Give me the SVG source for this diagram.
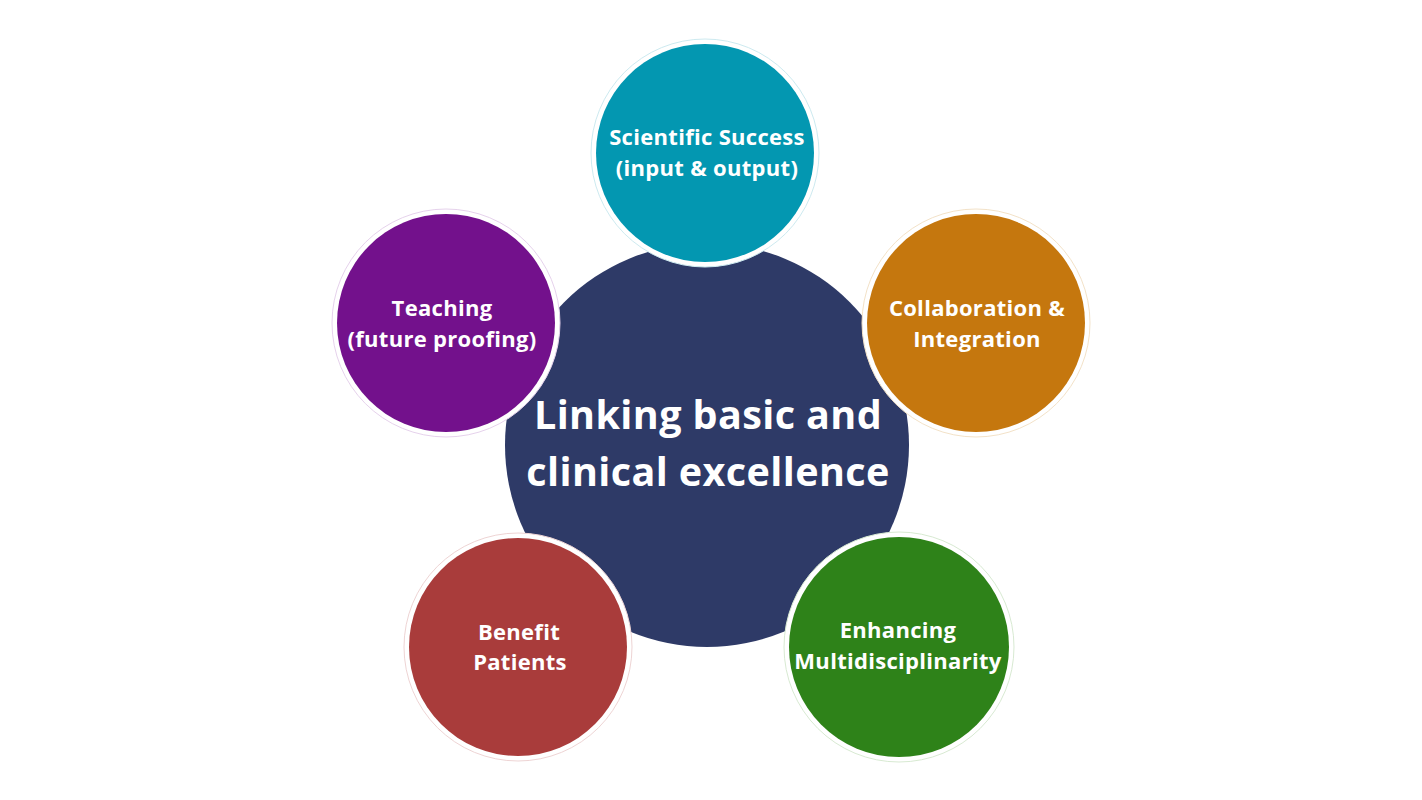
<svg xmlns="http://www.w3.org/2000/svg" width="1422" height="800" viewBox="0 0 1422 800">
<style>
.lbl{font-family:"Open Sans","Liberation Sans",sans-serif;font-weight:700;fill:#ffffff;text-anchor:middle;font-size:22px;letter-spacing:0.3px}
.big{font-family:"Open Sans","Liberation Sans",sans-serif;font-weight:700;fill:#ffffff;text-anchor:middle;font-size:39.5px;letter-spacing:0.4px}
.ring{fill:#ffffff;stroke-width:1}
</style>
<rect width="1422" height="800" fill="#ffffff"/>
<g id="center">
<circle cx="707" cy="445" r="202" fill="#2e3a67"/>
</g>
<g id="connectors"></g>
<g id="scientific">
<circle class="ring" cx="705" cy="153" r="114" stroke="#cdeaf0"/>
<circle cx="705" cy="153" r="109" fill="#0397b1"/>
<text class="lbl" x="707" y="145">Scientific Success</text>
<text class="lbl" x="707" y="176">(input &amp; output)</text>
</g>
<g id="teaching">
<circle class="ring" cx="446" cy="323" r="114" stroke="#e6d2ec"/>
<circle cx="446" cy="323" r="109" fill="#73118c"/>
<text class="lbl" x="442" y="316">Teaching</text>
<text class="lbl" x="442" y="347">(future proofing)</text>
</g>
<g id="collaboration">
<circle class="ring" cx="976" cy="323" r="114" stroke="#f3e2c8"/>
<circle cx="976" cy="323" r="109" fill="#c5770e"/>
<text class="lbl" x="977" y="316">Collaboration &amp;</text>
<text class="lbl" x="977" y="347">Integration</text>
</g>
<g id="benefit">
<circle class="ring" cx="518" cy="647" r="114" stroke="#eed4d4"/>
<circle cx="518" cy="647" r="109" fill="#a93c3b"/>
<text class="lbl" x="519" y="640">Benefit</text>
<text class="lbl" x="520" y="670">Patients</text>
</g>
<g id="enhancing">
<circle class="ring" cx="899" cy="647" r="115" stroke="#d8ead2"/>
<circle cx="899" cy="647" r="110" fill="#2e8219"/>
<text class="lbl" x="898" y="638">Enhancing</text>
<text class="lbl" x="898" y="669">Multidisciplinarity</text>
</g>
<g id="center-label">
<text class="big" x="708" y="429">Linking basic and</text>
<text class="big" x="708" y="486">clinical excellence</text>
</g>
</svg>
